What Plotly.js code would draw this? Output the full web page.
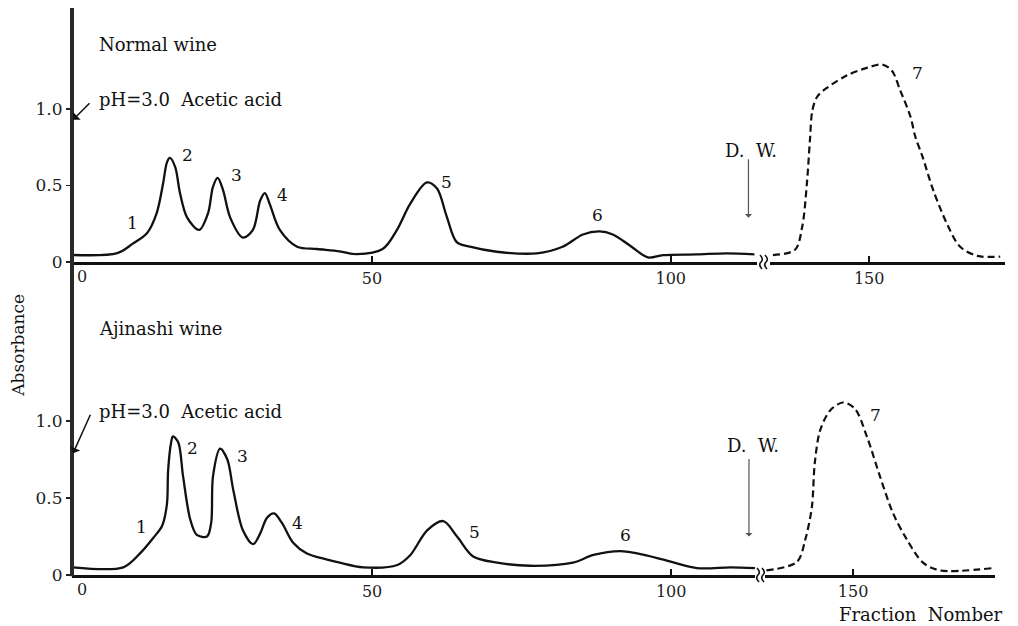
<!DOCTYPE html>
<html>
<head>
<meta charset="utf-8">
<script src="https://cdn.plot.ly/plotly-3.0.1.min.js"></script>
<style>html,body{margin:0;padding:0;background:#fff;}#chart{width:1018px;height:626px;}</style>
</head>
<body>
<div id="chart"></div>
<script>
// ---- Normal wine: acetic acid elution (fractions 0-114) ----
const normalFrac = [0, 7.4, 10.0, 12.4, 14.0, 15.1, 15.7, 16.2, 17.1, 17.9, 19.1, 21.1, 22.6, 23.4, 24.2, 25.1, 26.3, 28.4, 30.1, 31.3, 32.1, 32.9, 34.6, 37.5, 40.8, 44.6, 47.5, 51.8, 54.2, 56.4, 59.2, 60.9, 62.5, 64.2, 66.4, 70.9, 77.6, 81.9, 85.3, 88.1, 90.3, 93.1, 96.2, 98.7, 104.3, 109.4, 114.0];
const normalAbs  = [0.046, 0.058, 0.12, 0.19, 0.32, 0.52, 0.65, 0.68, 0.62, 0.45, 0.29, 0.21, 0.32, 0.49, 0.55, 0.47, 0.29, 0.16, 0.21, 0.40, 0.45, 0.38, 0.21, 0.10, 0.085, 0.07, 0.052, 0.085, 0.21, 0.38, 0.52, 0.48, 0.30, 0.13, 0.10, 0.067, 0.057, 0.10, 0.18, 0.20, 0.18, 0.11, 0.03, 0.045, 0.05, 0.057, 0.05];
// ---- Normal wine: distilled water elution (peak 7) ----
const normalDwFrac = [133.9, 137.6, 138.8, 139.6, 140.1, 140.5, 141.3, 143.0, 146.3, 149.7, 152.2, 153.8, 155.2, 156.9, 157.7, 158.9, 160.7, 163.0, 165.2, 168.1, 171.9];
const normalDwAbs  = [0.045, 0.08, 0.23, 0.52, 0.80, 0.99, 1.08, 1.14, 1.22, 1.27, 1.29, 1.25, 1.12, 0.95, 0.82, 0.69, 0.47, 0.25, 0.10, 0.04, 0.035];

// ---- Ajinashi wine: acetic acid elution ----
const ajiFrac = [0, 8.4, 11.2, 13.4, 14.9, 15.7, 15.9, 16.4, 16.7, 17.6, 18.4, 19.6, 20.7, 22.4, 23.1, 23.4, 24.6, 25.8, 26.8, 28.4, 30.1, 31.3, 32.4, 33.6, 34.9, 36.8, 39.1, 42.5, 44.6, 48.5, 54.2, 56.4, 59.2, 61.9, 64.2, 66.9, 70.9, 76.4, 83.6, 87.0, 91.5, 94.3, 98.7, 104.3, 109.9, 114.0];
const ajiAbs  = [0.05, 0.05, 0.14, 0.24, 0.32, 0.46, 0.68, 0.86, 0.90, 0.86, 0.64, 0.36, 0.26, 0.25, 0.34, 0.64, 0.82, 0.75, 0.55, 0.29, 0.20, 0.27, 0.37, 0.40, 0.34, 0.21, 0.14, 0.10, 0.08, 0.05, 0.065, 0.13, 0.29, 0.35, 0.25, 0.12, 0.08, 0.06, 0.08, 0.13, 0.155, 0.14, 0.10, 0.045, 0.05, 0.045];
// ---- Ajinashi wine: distilled water elution (peak 7) ----
const ajiDwFrac = [135.5, 140.6, 142.0, 143.1, 143.6, 144.5, 146.2, 148.3, 150.3, 152.3, 154.5, 156.7, 159.0, 161.7, 164.5, 173.4];
const ajiDwAbs  = [0.03, 0.085, 0.23, 0.44, 0.73, 0.94, 1.07, 1.12, 1.08, 0.90, 0.64, 0.40, 0.23, 0.08, 0.03, 0.045];

// ---- tick labels ----
const xTicksA = [50, 100];
const xTicksB = [150];
const yTickVals = [0, 0.5, 1.0];
const yTickText = ['0', '0.5', '1.0'];
const peakLabels = ['1', '2', '3', '4', '5', '6', '7'];

const FONT = 'DejaVu Serif';
const solid = {color: '#111', width: 2.3, shape: 'spline', smoothing: 0.9};
const dashed = {color: '#111', width: 2.2, shape: 'spline', smoothing: 0.9, dash: '7px,4px'};

const traces = [
  {x: normalFrac, y: normalAbs, xaxis: 'x', yaxis: 'y', mode: 'lines', line: solid},
  {x: normalDwFrac, y: normalDwAbs, xaxis: 'x2', yaxis: 'y', mode: 'lines', line: dashed},
  {x: ajiFrac, y: ajiAbs, xaxis: 'x3', yaxis: 'y2', mode: 'lines', line: solid},
  {x: ajiDwFrac, y: ajiDwAbs, xaxis: 'x4', yaxis: 'y2', mode: 'lines', line: dashed}
];

function xax(domain, range, anchor, ticks) {
  return {
    domain: domain, range: range, anchor: anchor,
    showline: true, linewidth: 3, linecolor: '#111',
    showgrid: false, zeroline: false,
    tickmode: 'array', tickvals: ticks, ticktext: ticks.map(String),
    ticks: 'inside', ticklen: 6, tickwidth: 1.5, tickcolor: '#111',
    tickfont: {family: FONT, size: 16, color: '#222'}
  };
}
function yax(domain, range, anchor) {
  return {
    domain: domain, range: range, anchor: anchor,
    showline: false, showgrid: false, zeroline: false,
    tickmode: 'array', tickvals: yTickVals, ticktext: yTickText,
    ticks: 'outside', ticklen: 5, tickwidth: 1.5, tickcolor: '#222',
    tickfont: {family: FONT, size: 17, color: '#222'}
  };
}

const txt = (s, x, y, xr, yr, extra) => Object.assign({
  text: s, x: x, y: y, xref: xr, yref: yr, showarrow: false,
  xanchor: 'center', yanchor: 'middle',
  font: {family: FONT, size: 17, color: '#111'}
}, extra || {});
const big = {family: FONT, size: 18, color: '#111'};

const annotations = [
  // top panel
  txt('Normal wine', 4.0, 1.42, 'x', 'y', {xanchor: 'left', font: big}),
  txt('pH=3.0  Acetic acid', 4.0, 1.06, 'x', 'y', {xanchor: 'left', font: big}),
  {x: 0, y: 0.93, xref: 'x', yref: 'y', ax: 18, ay: -18, showarrow: true, arrowhead: 1, arrowsize: 1.2, arrowwidth: 1.5, arrowcolor: '#111', text: ''},
  txt(peakLabels[0], 10.0, 0.255, 'x', 'y'),
  txt(peakLabels[1], 19.1, 0.70, 'x', 'y'),
  txt(peakLabels[2], 27.3, 0.57, 'x', 'y'),
  txt(peakLabels[3], 35.1, 0.44, 'x', 'y'),
  txt(peakLabels[4], 62.5, 0.52, 'x', 'y'),
  txt(peakLabels[5], 87.8, 0.31, 'x', 'y'),
  txt(peakLabels[6], 158.0, 1.235, 'x2', 'y'),
  txt('D.  W.', 113.5, 0.73, 'x', 'y', {font: big}),
  {x: 113.0, y: 0.29, xref: 'x', yref: 'y', ax: 0, ay: -60, showarrow: true, arrowhead: 1, arrowsize: 1, arrowwidth: 1.2, arrowcolor: '#555', text: ''},
  txt('0', 0, 0, 'x', 'y', {xshift: 9, yanchor: 'top', yshift: -3, font: {family: FONT, size: 16, color: '#222'}}),
  // bottom panel
  txt('Ajinashi wine', 4.0, 1.60, 'x3', 'y2', {xanchor: 'left', font: big}),
  txt('pH=3.0  Acetic acid', 4.0, 1.06, 'x3', 'y2', {xanchor: 'left', font: big}),
  {x: 0, y: 0.79, xref: 'x3', yref: 'y2', ax: 18, ay: -40, showarrow: true, arrowhead: 1, arrowsize: 1.2, arrowwidth: 1.5, arrowcolor: '#111', text: ''},
  txt(peakLabels[0], 11.5, 0.31, 'x3', 'y2'),
  txt(peakLabels[1], 19.9, 0.825, 'x3', 'y2'),
  txt(peakLabels[2], 28.3, 0.77, 'x3', 'y2'),
  txt(peakLabels[3], 37.5, 0.34, 'x3', 'y2'),
  txt(peakLabels[4], 67.1, 0.28, 'x3', 'y2'),
  txt(peakLabels[5], 92.3, 0.26, 'x3', 'y2'),
  txt(peakLabels[6], 153.7, 1.04, 'x4', 'y2'),
  txt('D.  W.', 113.7, 0.84, 'x3', 'y2', {font: big}),
  {x: 113.0, y: 0.25, xref: 'x3', yref: 'y2', ax: 0, ay: -79, showarrow: true, arrowhead: 1, arrowsize: 1, arrowwidth: 1.2, arrowcolor: '#555', text: ''},
  txt('0', 0, 0, 'x3', 'y2', {xshift: 9, yanchor: 'top', yshift: -3, font: {family: FONT, size: 16, color: '#222'}}),
  // axis titles
  txt('Fraction  Nomber', 0.91, -0.0705, 'paper', 'paper', {font: big}),
  txt('Absorbance', -0.058, 0.406, 'paper', 'paper', {textangle: -90, font: {family: FONT, size: 17, color: '#111'}})
];

function breakMark(xp, yp) {
  return {
    type: 'path', xref: 'paper', yref: 'paper',
    xsizemode: 'pixel', ysizemode: 'pixel', xanchor: xp, yanchor: yp,
    path: 'M -1,-7 Q -5,-3 -2,0 Q 1,3 -3,7 M 4,-7 Q 0,-3 3,0 Q 6,3 2,7',
    line: {color: '#111', width: 1.6}
  };
}

const shapes = [
  // continuous vertical (absorbance) axis
  {type: 'line', xref: 'paper', yref: 'paper', x0: 0, x1: 0, y0: -0.002, y1: 1.0, line: {color: '#2a2a2a', width: 4}},
  breakMark((763 - 72) / 933, (575 - 262) / 567),
  breakMark((760 - 72) / 933, 0)
];

const layout = {
  width: 1018, height: 626,
  margin: {l: 72, r: 13, t: 8, b: 51},
  paper_bgcolor: '#fff', plot_bgcolor: 'rgba(0,0,0,0)',
  showlegend: false,
  font: {family: FONT, color: '#111'},
  xaxis: xax([0, 0.734], [-0.17, 114.4], 'y', xTicksA),
  xaxis2: xax([0.748, 1.0], [133.4, 172.7], 'y', xTicksB),
  xaxis3: xax([0, 0.732], [-0.17, 114.0], 'y2', xTicksA),
  xaxis4: xax([0.743, 0.989], [135.3, 173.7], 'y2', xTicksB),
  yaxis: yax([0.552, 1.0], [0, 1.66], 'x'),
  yaxis2: yax([0, 0.5026], [0, 1.85], 'x3'),
  annotations: annotations,
  shapes: shapes
};

Plotly.newPlot('chart', traces, layout, {displayModeBar: false, staticPlot: true});
</script>
</body>
</html>
